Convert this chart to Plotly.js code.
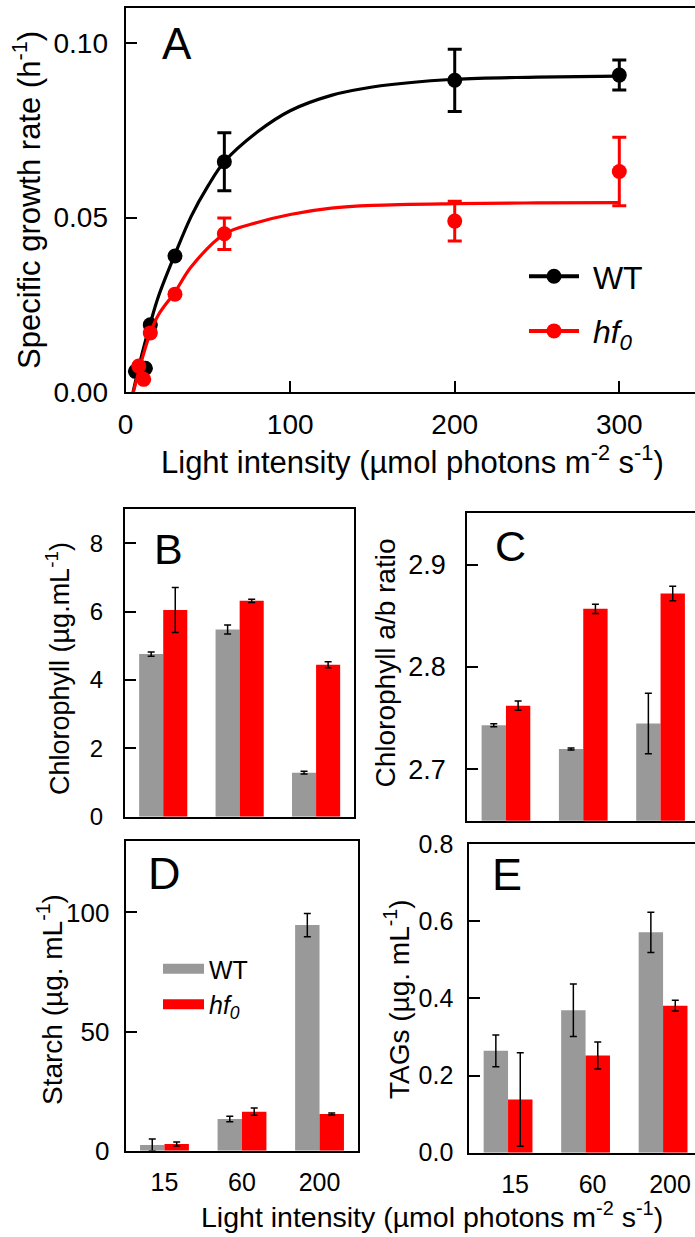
<!DOCTYPE html>
<html>
<head>
<meta charset="utf-8">
<script src="https://cdn.plot.ly/plotly-3.0.1.min.js"></script>
<style>html,body{margin:0;padding:0;background:#fff;overflow:hidden}#chart{width:695px;height:1237px}</style>
</head>
<body>
<div id="chart"></div>
<script>
// ---------- Panel A: specific growth rate ----------
const wtX = [6, 12, 15, 30, 60, 200, 300];
const wtY = [0.0060, 0.0069, 0.0193, 0.0390, 0.0660, 0.0893, 0.0908];
const wtErr = [null, null, null, null, 0.0083, 0.0089, 0.0043];
const hfX = [8, 11, 15, 30, 60, 200, 300];
const hfY = [0.0075, 0.0037, 0.0170, 0.0281, 0.0454, 0.0490, 0.0632];
const hfErr = [null, null, null, null, 0.0045, 0.0057, 0.0098];
// fitted curves
const wtFitX = [4.5, 10, 15, 20, 30, 40, 50, 60, 80, 100, 125, 150, 200, 250, 300];
const wtFitY = [0, 0.0110, 0.0197, 0.0275, 0.0395, 0.0505, 0.0590, 0.0660, 0.0745, 0.0806, 0.0850, 0.0874, 0.0896, 0.0902, 0.0905];
const hfFitX = [4.7, 10, 15, 20, 30, 40, 60, 80, 100, 125, 150, 200, 250, 300];
const hfFitY = [0, 0.0095, 0.0170, 0.0222, 0.0287, 0.0360, 0.0453, 0.0486, 0.0509, 0.0527, 0.0535, 0.0540, 0.0542, 0.0543];

// ---------- Panels B-E: bars ----------
const lightCats = ['15', '60', '200'];
const chlWT = [4.76, 5.48, 1.29];
const chlWTErr = [0.06, 0.13, 0.04];
const chlHF = [6.05, 6.32, 4.45];
const chlHFErr = [0.66, 0.05, 0.09];
const abWT = [2.7431, 2.7200, 2.7448];
const abWTErr = [0.0015, 0.0010, 0.0295];
const abHF = [2.7623, 2.8568, 2.8717];
const abHFErr = [0.0045, 0.0045, 0.0071];
const starchWT = [2.4, 13.3, 94.7];
const starchWTErr = [2.5, 1.2, 4.9];
const starchHF = [2.8, 16.4, 15.4];
const starchHFErr = [0.8, 1.5, 0.4];
const tagWT = [0.264, 0.369, 0.571];
const tagWTErr = [0.041, 0.068, 0.052];
const tagHF = [0.138, 0.252, 0.381];
const tagHFErr = [0.121, 0.035, 0.014];

const GRAY = '#999999', RED = '#ff0000', BLACK = '#000000';
const FONT = 'Arial, "Liberation Sans", sans-serif';
const W = 695, H = 1237;
const px = v => v / W;
const py = v => 1 - v / H;

const traces = [];
// Panel A
traces.push({x: wtFitX, y: wtFitY, mode: 'lines', line: {color: BLACK, width: 3.2, shape: 'spline'}, xaxis: 'x', yaxis: 'y', showlegend: false, hoverinfo: 'skip'});
traces.push({x: wtX, y: wtY, mode: 'markers', marker: {color: BLACK, size: 15}, error_y: {type: 'data', array: wtErr, color: BLACK, thickness: 3, width: 7}, xaxis: 'x', yaxis: 'y', showlegend: false});
traces.push({x: hfFitX, y: hfFitY, mode: 'lines', line: {color: RED, width: 3.2, shape: 'spline'}, xaxis: 'x', yaxis: 'y', showlegend: false, hoverinfo: 'skip'});
traces.push({x: hfX, y: hfY, mode: 'markers', marker: {color: RED, size: 15}, error_y: {type: 'data', array: hfErr, color: RED, thickness: 3, width: 7}, xaxis: 'x', yaxis: 'y', showlegend: false});
// legend-only entries for A (no drawn marks)
traces.push({x: [null], y: [null], mode: 'lines+markers', name: '\u00a0WT', line: {color: BLACK, width: 4}, marker: {color: BLACK, size: 15}, xaxis: 'x', yaxis: 'y', legend: 'legend', legendgroup: 'a1'});
traces.push({x: [null], y: [null], mode: 'lines+markers', name: '\u00a0<i>hf<sub>0</sub></i>', line: {color: RED, width: 4}, marker: {color: RED, size: 15}, xaxis: 'x', yaxis: 'y', legend: 'legend', legendgroup: 'a2'});

function barPair(ax, wt, wtE, hf, hfE) {
  const xa = 'x' + ax, ya = 'y' + ax;
  traces.push({type: 'bar', x: lightCats, y: wt, name: 'WT', marker: {color: GRAY, line: {width: 0}},
    error_y: {type: 'data', array: wtE, color: BLACK, thickness: 1.5, width: 3.5},
    xaxis: xa, yaxis: ya, offsetgroup: 'wt', showlegend: false});
  traces.push({type: 'bar', x: lightCats, y: hf, name: 'hf0', marker: {color: RED, line: {width: 0}},
    error_y: {type: 'data', array: hfE, color: BLACK, thickness: 1.5, width: 3.5},
    xaxis: xa, yaxis: ya, offsetgroup: 'hf', showlegend: false});
}
barPair(2, chlWT, chlWTErr, chlHF, chlHFErr);
barPair(3, abWT, abWTErr, abHF, abHFErr);
barPair(4, starchWT, starchWTErr, starchHF, starchHFErr);
barPair(5, tagWT, tagWTErr, tagHF, tagHFErr);
// legend-only entries for the bar panels (wide swatches, no drawn marks)
traces.push({x: [null], y: [null], mode: 'lines', name: 'WT', line: {color: GRAY, width: 18}, xaxis: 'x4', yaxis: 'y4', legend: 'legend2', legendgroup: 'b1'});
traces.push({x: [null], y: [null], mode: 'lines', name: '<i>hf<sub>0</sub></i>', line: {color: RED, width: 18}, xaxis: 'x4', yaxis: 'y4', legend: 'legend2', legendgroup: 'b2'});

const axBase = {showgrid: false, zeroline: false, showline: true, linecolor: BLACK, linewidth: 2,
  ticks: 'inside', ticklen: 11, tickwidth: 2, tickcolor: BLACK, fixedrange: true};

function yAx(domain, range, tickvals, fmt, size, standoff, mirror, anchor) {
  return Object.assign({}, axBase, {domain: domain, range: range, tickvals: tickvals, tickformat: fmt,
    tickfont: {family: FONT, size: size, color: BLACK}, ticklabelstandoff: standoff, mirror: mirror, anchor: anchor});
}
function xBar(domain, range, showLabels, anchor, mirror, shift) {
  return Object.assign({}, axBase, {domain: domain, range: range, type: 'category', ticks: '',
    showticklabels: showLabels, tickfont: {family: FONT, size: 25, color: BLACK}, mirror: mirror, anchor: anchor,
    ticklabelshift: shift || 0, ticklabelstandoff: 8});
}

const ann = [];
function label(text, x, y, size) {
  ann.push({text: text, x: px(x), y: py(y), xref: 'paper', yref: 'paper', showarrow: false,
    xanchor: 'center', yanchor: 'middle', font: {family: FONT, size: size, color: BLACK}});
}
function ytitle(text, x, y, size) {
  ann.push({text: text, x: px(x), y: py(y), xref: 'paper', yref: 'paper', showarrow: false, textangle: -90,
    xanchor: 'center', yanchor: 'middle', font: {family: FONT, size: size, color: BLACK}});
}
label('A', 176.7, 44, 44);
label('B', 168.3, 548.7, 43);
label('C', 510.8, 545.8, 43);
label('D', 164.2, 873, 45);
label('E', 506.7, 874, 45);
ytitle('Specific growth rate (h<sup>-1</sup>)', 27, 200, 31);
ytitle('Chlorophyll (µg.mL<sup>-1</sup>)', 58, 669, 27);
ytitle('Chlorophyll a/b ratio', 385, 663.5, 28);
ytitle('Starch (µg. mL<sup>-1</sup>)', 50, 1000, 28);
ytitle('TAGs (µg. mL<sup>-1</sup>)', 397, 999, 28);
label('Light intensity (µmol photons m<sup>-2</sup> s<sup>-1</sup>)', 412, 460, 31);
label('Light intensity (µmol photons m<sup>-2</sup> s<sup>-1</sup>)', 432, 1215, 28.5);

const layout = {
  width: W, height: H, margin: {l: 0, r: 0, t: 0, b: 0}, paper_bgcolor: '#fff', plot_bgcolor: '#fff',
  barmode: 'group', bargap: 0.37, bargroupgap: 0,
  font: {family: FONT, color: BLACK},
  xaxis: Object.assign({}, axBase, {domain: [px(125.6), 1], range: [0, 346], tickvals: [0, 100, 200, 300],
    tickfont: {family: FONT, size: 28, color: BLACK}, mirror: true, anchor: 'y', ticklabelstandoff: 6}),
  yaxis: yAx([py(392.3), py(8)], [0, 0.11], [0, 0.05, 0.10], '.2f', 28, 10, false, 'x'),
  xaxis2: xBar([px(125), px(354.3)], [-0.5, 2.5], false, 'y2', true),
  yaxis2: yAx([py(816.7), py(509.3)], [0, 9], [0, 2, 4, 6, 8], '', 24, 15, true, 'x2'),
  xaxis3: xBar([px(467.3), 1], [-0.5, 2.4457], false, 'y3', true),
  yaxis3: yAx([py(820.7), py(513.3)], [2.65, 2.95], [2.7, 2.8, 2.9], '.1f', 27, 14, false, 'x3'),
  xaxis4: xBar([px(125.7), px(358.3)], [-0.5, 2.5], true, 'y4', true),
  yaxis4: yAx([py(1150.7), py(841)], [0, 130], [0, 50, 100], '', 26, 9, true, 'x4'),
  xaxis5: xBar([px(469.3), 1], [-0.5, 2.412], true, 'y5', true, 7),
  yaxis5: yAx([py(1152.7), py(844)], [0, 0.8], [0, 0.2, 0.4, 0.6, 0.8], '.1f', 25, 9, false, 'x5'),
  legend: {x: px(524), y: py(249), xanchor: 'left', yanchor: 'top', bgcolor: 'rgba(0,0,0,0)',
    font: {family: FONT, size: 32, color: BLACK}, itemwidth: 50, tracegroupgap: 10, traceorder: 'grouped'},
  legend2: {x: px(158), y: py(946), xanchor: 'left', yanchor: 'top', bgcolor: 'rgba(0,0,0,0)',
    font: {family: FONT, size: 25, color: BLACK}, itemwidth: 41, tracegroupgap: 0, traceorder: 'grouped'},
  annotations: ann,
  showlegend: true
};

Plotly.newPlot('chart', traces, layout, {displayModeBar: false, staticPlot: true});
</script>
</body>
</html>
